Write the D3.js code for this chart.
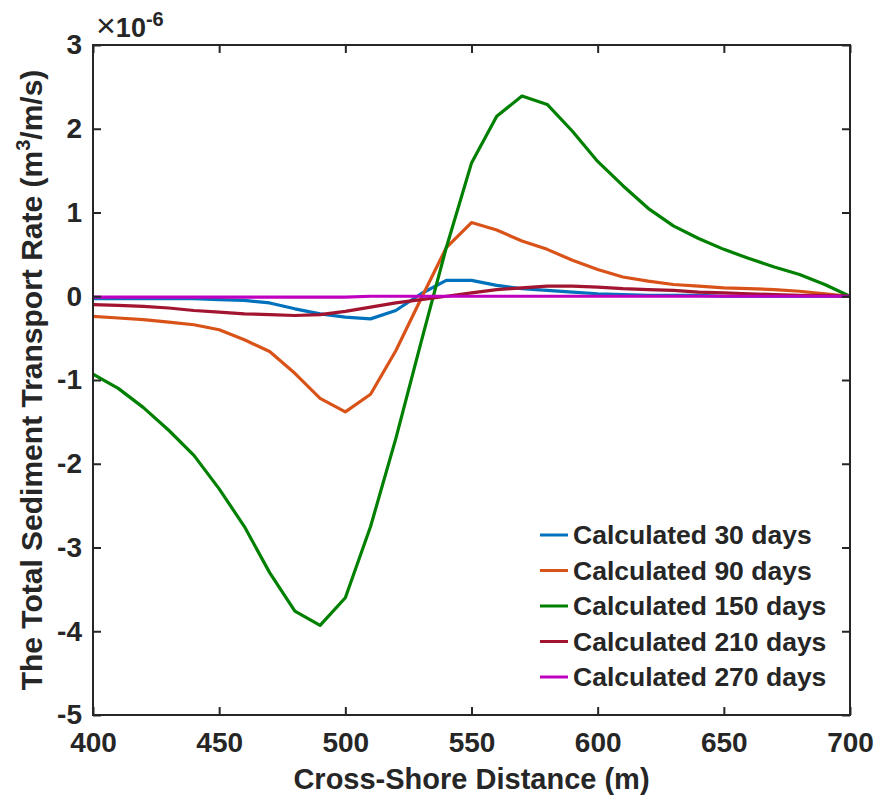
<!DOCTYPE html>
<html>
<head>
<meta charset="utf-8">
<script src="https://cdn.jsdelivr.net/npm/d3@7"></script>
<style>
  body { margin: 0; background: #fff; }
  text { font-family: "Liberation Sans", Arial, Helvetica, sans-serif; font-weight: bold; fill: #262626; }
</style>
</head>
<body>
<div id="chart"></div>
<script>
// cross-shore positions (m)
const distance = d3.range(400, 701, 10);

// sediment transport rate, units of 1e-6 m3/m/s
const days30 = [-0.03, -0.03, -0.03, -0.03, -0.03, -0.04, -0.05, -0.08, -0.15, -0.21, -0.25, -0.27, -0.17, 0.03, 0.19,
    0.19, 0.13, 0.09, 0.07, 0.05, 0.03, 0.02, 0.01, 0.01, 0.01, 0.0, 0.0, 0.0, 0.0, 0.0, 0.0];
const days90 = [-0.24, -0.26, -0.28, -0.31, -0.34, -0.4, -0.52, -0.66, -0.92, -1.22, -1.38, -1.17, -0.65, -0.03, 0.58,
    0.88, 0.79, 0.66, 0.56, 0.43, 0.32, 0.23, 0.18, 0.14, 0.12, 0.1, 0.09, 0.08, 0.06, 0.03, 0.0];
const days150 = [-0.93, -1.1, -1.33, -1.6, -1.9, -2.3, -2.75, -3.3, -3.76, -3.93, -3.6, -2.75, -1.7, -0.55, 0.58,
    1.59, 2.15, 2.39, 2.29, 1.97, 1.61, 1.32, 1.05, 0.84, 0.69, 0.56, 0.45, 0.35, 0.26, 0.14, 0.0];
const days210 = [-0.1, -0.11, -0.12, -0.14, -0.17, -0.19, -0.21, -0.22, -0.23, -0.22, -0.18, -0.13, -0.08, -0.04, 0.0,
    0.04, 0.08, 0.1, 0.12, 0.12, 0.11, 0.09, 0.08, 0.07, 0.05, 0.04, 0.03, 0.02, 0.01, 0.01, 0.0];
const days270 = [-0.01, -0.01, -0.01, -0.01, -0.01, -0.01, -0.01, -0.01, -0.01, -0.01, -0.01, 0.0, 0.0, 0.0, 0.0,
    0.0, 0.0, 0.0, 0.0, 0.0, 0.0, 0.0, 0.0, 0.0, 0.0, 0.0, 0.0, 0.0, 0.0, 0.0, 0.0];

const seriesNames = ["Calculated 30 days", "Calculated 90 days", "Calculated 150 days", "Calculated 210 days", "Calculated 270 days"];
const seriesValues = [days30, days90, days150, days210, days270];
const seriesColors = ["#0072BD", "#D95319", "#008000", "#A2142F", "#BF00BF"];

const xTicks = [400, 450, 500, 550, 600, 650, 700];
const yTicks = [-5, -4, -3, -2, -1, 0, 1, 2, 3];

const margin = {top: 45, right: 29, bottom: 84, left: 93};
const width = 879 - margin.left - margin.right;
const height = 799 - margin.top - margin.bottom;

const svg = d3.select("#chart").append("svg")
    .attr("width", 879)
    .attr("height", 799);

const g = svg.append("g")
    .attr("transform", "translate(" + margin.left + "," + margin.top + ")");

const x = d3.scaleLinear().domain([400, 700]).range([0, width]);
const y = d3.scaleLinear().domain([-5, 3]).range([height, 0]);

// clip lines to the axes box
g.append("clipPath").attr("id", "clip")
    .append("rect").attr("width", width).attr("height", height);

const line = d3.line()
    .x((d, i) => x(distance[i]))
    .y(d => y(d));

g.append("g").attr("clip-path", "url(#clip)")
    .selectAll("path")
    .data(seriesValues)
    .join("path")
    .attr("fill", "none")
    .attr("stroke", (d, i) => seriesColors[i])
    .attr("stroke-width", 3.2)
    .attr("stroke-linejoin", "round")
    .attr("d", line);

// axes, MATLAB-style box with inward ticks
const tickLen = 8;
function styleAxis(sel) {
    sel.select(".domain").remove();
    sel.selectAll(".tick line").attr("stroke", "#262626").attr("stroke-width", 2);
    sel.selectAll(".tick text").style("font-size", "28px").attr("fill", "#262626");
}

g.append("g")
    .attr("transform", "translate(0," + height + ")")
    .call(d3.axisBottom(x).tickValues(xTicks).tickSize(-tickLen).tickPadding(17))
    .call(styleAxis);

g.append("g")
    .call(d3.axisTop(x).tickValues(xTicks).tickSize(-tickLen).tickFormat(""))
    .call(styleAxis);

g.append("g")
    .call(d3.axisLeft(y).tickValues(yTicks).tickSize(-tickLen).tickPadding(11).tickFormat(d => String(d)))
    .call(styleAxis);

g.append("g")
    .attr("transform", "translate(" + width + ",0)")
    .call(d3.axisRight(y).tickValues(yTicks).tickSize(-tickLen).tickFormat(""))
    .call(styleAxis);

g.append("rect")
    .attr("width", width)
    .attr("height", height)
    .attr("fill", "none")
    .attr("stroke", "#262626")
    .attr("stroke-width", 2);

// exponent label
const expo = g.append("text")
    .attr("x", 3)
    .attr("y", -8)
    .style("font-size", "27px");
expo.append("tspan").text("\u00d7").style("font-weight", "normal").style("font-size", "34px");
expo.append("tspan").text("10");
expo.append("tspan").text("-6").attr("dy", -11).style("font-size", "20px");

// axis titles
g.append("text")
    .attr("x", width / 2)
    .attr("y", height + 74)
    .attr("text-anchor", "middle")
    .style("font-size", "29px")
    .text("Cross-Shore Distance (m)");

const yTitle = g.append("text")
    .attr("transform", "translate(-51," + (height / 2) + ") rotate(-90)")
    .attr("text-anchor", "middle")
    .style("font-size", "30px");
yTitle.append("tspan").text("The Total Sediment Transport Rate (m");
yTitle.append("tspan").text("3").attr("dy", -12).style("font-size", "20px");
yTitle.append("tspan").text("/m/s)").attr("dy", 12);

// legend
const legend = g.append("g")
    .attr("transform", "translate(447,490)");

const rows = legend.selectAll("g")
    .data(seriesNames)
    .join("g")
    .attr("transform", (d, i) => "translate(0," + (i * 35.5) + ")");

rows.append("line")
    .attr("x1", 0).attr("x2", 28)
    .attr("stroke", (d, i) => seriesColors[i])
    .attr("stroke-width", 3);

rows.append("text")
    .attr("x", 33)
    .attr("dy", "0.35em")
    .style("font-size", "26.5px")
    .text(d => d);
</script>
</body>
</html>
